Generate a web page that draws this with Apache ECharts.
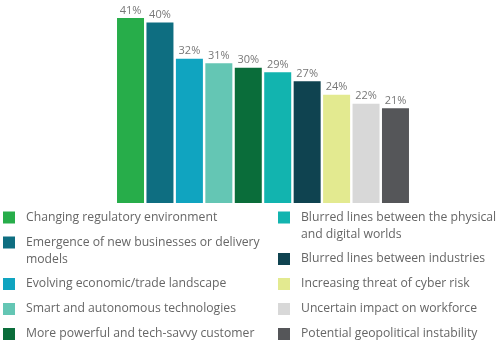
<!DOCTYPE html>
<html>
<head>
<meta charset="utf-8">
<script src="https://cdn.jsdelivr.net/npm/echarts@6/dist/echarts.min.js"></script>
<style>
  html, body { margin: 0; padding: 0; background: #fff; }
  #chart { width: 498px; height: 349px; }
</style>
</head>
<body>
<div id="chart"></div>
<script>
// legend names (newline where the reference wraps)
var names = [
    "Changing regulatory environment",
    "Emergence of new businesses or delivery\nmodels",
    "Evolving economic/trade landscape",
    "Smart and autonomous technologies",
    "More powerful and tech-savvy customer",
    "Blurred lines between the physical\nand digital worlds",
    "Blurred lines between industries",
    "Increasing threat of cyber risk",
    "Uncertain impact on workforce",
    "Potential geopolitical instability"
]
var values = [41, 40, 32, 31, 30, 29, 27, 24, 22, 21]
var colors = ['#27ad4a', '#0e6e81', '#10a4c0', '#64c6b4', '#0a6d3a',
              '#12b4af', '#0f4350', '#e3ea90', '#d8d8d8', '#555659']

// square at the top, tiny dot at the bottom so wrapped text hangs below the icon
var squareIcon = 'path://M0,0h12v12h-12z'
var tallIcon = 'path://M0,0h12v12h-12z M11.99,28.99h0.01v0.01h-0.01z'

var chart = echarts.init(document.getElementById("chart"))

var series = []
var legends = []
var rowY = [217.5, 217.5]   // icon centre of the next row, left / right column
for (var i = 0; i < names.length; i++) {
    var data = values.map(function (v, j) { return j === i ? v : '-' })
    series.push({
        name: names[i],
        type: 'bar',
        stack: 'all',
        barWidth: 27,
        itemStyle: { color: colors[i] },
        label: {
            show: true,
            position: 'top',
            distance: 2,
            formatter: '{c}%',
            color: '#777',
            fontSize: 11,
            fontFamily: 'Open Sans'
        },
        data: data
    })

    var col = i < 5 ? 0 : 1
    var wrapped = names[i].indexOf('\n') >= 0
    var cy = rowY[col]
    legends.push({
        data: [{ name: names[i], textStyle: { padding: [0, 0, 0, 6] } }],
        left: col === 0 ? 3 : 278,
        top: cy - 8.5,
        padding: 0,
        itemWidth: 12,
        itemHeight: wrapped ? 29 : 12,
        icon: wrapped ? tallIcon : squareIcon,
        selectedMode: false,
        textStyle: {
            color: '#666',
            fontSize: 12.2,
            lineHeight: 17,
            fontFamily: 'Open Sans'
        }
    })
    rowY[col] = cy + 25 + (wrapped ? 16.5 : 0)
}

var option = {
    animation: false,
    grid: { left: 115.8, width: 294.4, top: 0, bottom: 146 },
    xAxis: { type: 'category', data: names, show: false },
    yAxis: { type: 'value', min: 0, max: 45, show: false },
    legend: legends,
    series: series
}
chart.setOption(option)
</script>
</body>
</html>
